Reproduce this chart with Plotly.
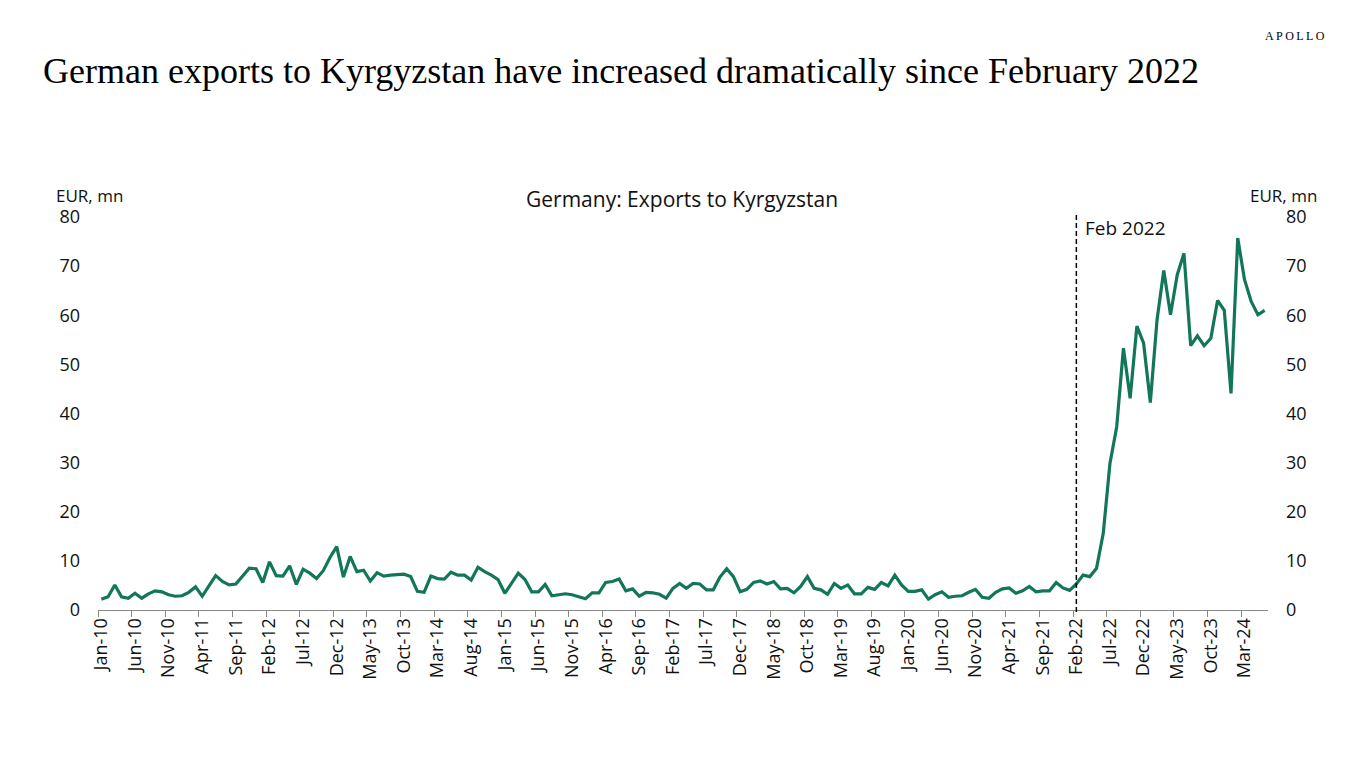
import pandas as pd
import plotly.graph_objects as go

# Monthly German exports to Kyrgyzstan, EUR mn
exp_2010 = [2.2, 2.7, 5.1, 2.7, 2.4, 3.4, 2.4, 3.3, 3.9, 3.7, 3.1, 2.8]
exp_2011 = [2.9, 3.6, 4.7, 2.8, 4.9, 7.0, 5.8, 5.1, 5.3, 6.8, 8.5, 8.4]
exp_2012 = [5.6, 9.8, 7.0, 6.9, 9.0, 5.2, 8.3, 7.5, 6.4, 8.0, 10.7, 12.9]
exp_2013 = [6.7, 10.9, 7.8, 8.1, 5.9, 7.6, 6.9, 7.1, 7.2, 7.3, 6.8, 3.8]
exp_2014 = [3.6, 6.9, 6.4, 6.3, 7.7, 7.1, 7.1, 6.1, 8.7, 7.8, 7.1, 6.2]
exp_2015 = [3.4, 5.4, 7.5, 6.2, 3.7, 3.7, 5.2, 2.9, 3.1, 3.3, 3.1, 2.7]
exp_2016 = [2.3, 3.5, 3.5, 5.6, 5.8, 6.3, 3.9, 4.3, 2.8, 3.6, 3.5, 3.2]
exp_2017 = [2.4, 4.4, 5.4, 4.4, 5.4, 5.3, 4.1, 4.1, 6.7, 8.4, 6.8, 3.7]
exp_2018 = [4.2, 5.6, 5.9, 5.3, 5.8, 4.3, 4.4, 3.5, 4.8, 6.8, 4.4, 4.1]
exp_2019 = [3.2, 5.4, 4.4, 5.1, 3.3, 3.3, 4.6, 4.2, 5.6, 4.9, 7.1, 5.1]
exp_2020 = [3.8, 3.8, 4.1, 2.2, 3.1, 3.7, 2.6, 2.8, 2.9, 3.6, 4.2, 2.6]
exp_2021 = [2.4, 3.6, 4.3, 4.5, 3.4, 3.9, 4.8, 3.7, 3.9, 3.9, 5.6, 4.5]
exp_2022 = [4.0, 5.3, 7.1, 6.8, 8.5, 15.6, 29.9, 37.3, 53.3, 43.1, 57.8, 54.3]
exp_2023 = [42.2, 59.1, 69.1, 60.1, 68.2, 72.6, 53.8, 55.8, 53.8, 55.3, 63.0, 61.0]
exp_2024 = [44.1, 75.7, 67.3, 62.8, 60.1, 61.0]

values = (exp_2010 + exp_2011 + exp_2012 + exp_2013 + exp_2014 + exp_2015 + exp_2016
          + exp_2017 + exp_2018 + exp_2019 + exp_2020 + exp_2021 + exp_2022 + exp_2023 + exp_2024)
months = [d.strftime("%b-%y") for d in pd.date_range("2010-01-01", periods=len(values), freq="MS")]

event_month = "Feb-22"
event_label = "Feb 2022"
title = "German exports to Kyrgyzstan have increased dramatically since February 2022"
chart_title = "Germany: Exports to Kyrgyzstan"
unit = "EUR, mn"
brand = "A\u2009P\u2009O\u2009L\u2009L\u2009O"

W, H = 1366, 768
L, R, T, B = 98, 1268.4, 217, 610  # plot area in pixels


def px(x):
    return (x - L) / (R - L)


def py(y):
    return (B - y) / (B - T)


SANS = "Open Sans"
TXT = "#111111"
GREEN = "#12765A"

fig = go.Figure()
fig.add_trace(go.Scatter(x=months, y=values, mode="lines",
                         line=dict(color=GREEN, width=3.2), showlegend=False, hoverinfo="x+y"))
fig.add_trace(go.Scatter(x=months, y=values, mode="lines", yaxis="y2",
                         line=dict(color="rgba(0,0,0,0)", width=0), showlegend=False, hoverinfo="skip"))

fig.add_shape(type="line", xref="x", yref="paper", x0=event_month, x1=event_month,
              y0=-0.005, y1=py(213), line=dict(color="black", width=1.5, dash="5px,3px"))

annotations = [
    dict(text=title, x=px(41), y=py(71), xanchor="left", yanchor="middle",
         font=dict(family="Liberation Serif", size=36, color="black")),
    dict(text=brand, x=px(1327), y=py(36), xanchor="right", yanchor="middle",
         font=dict(family="Liberation Serif", size=12, color="black")),
    dict(text=chart_title, x=px(682), y=py(199), xanchor="center", yanchor="middle",
         font=dict(family=SANS, size=21, color=TXT)),
    dict(text=unit, x=px(54), y=py(195), xanchor="left", yanchor="middle",
         font=dict(family=SANS, size=17, color=TXT)),
    dict(text=unit, x=px(1319), y=py(195), xanchor="right", yanchor="middle",
         font=dict(family=SANS, size=17, color=TXT)),
    dict(text=event_label, x=px(1083), y=py(228), xanchor="left", yanchor="middle",
         font=dict(family=SANS, size=19, color=TXT)),
]
for a in annotations:
    a.update(xref="paper", yref="paper", showarrow=False)

yax = dict(range=[0, 80], dtick=10, showgrid=False, zeroline=False, showline=False,
           ticks="", tickfont=dict(family=SANS, size=18, color=TXT), ticklabelstandoff=17,
           fixedrange=True)

fig.update_layout(
    width=W, height=H,
    margin=dict(l=L, r=W - R, t=T, b=H - B, pad=0),
    paper_bgcolor="white", plot_bgcolor="white",
    annotations=annotations,
    xaxis=dict(type="category", range=[-0.5, len(values) - 0.5], tickmode="linear", tick0=0, dtick=5,
               tickson="boundaries", ticks="outside", ticklen=6, tickcolor="#888888", tickwidth=1,
               showline=True, linecolor="#888888", linewidth=1, showgrid=False, zeroline=False,
               tickangle=-90, tickfont=dict(family=SANS, size=18, color=TXT)),
    yaxis=dict(**yax, side="left"),
    yaxis2=dict(**yax, side="right", overlaying="y"),
)

fig.write_html("out.html")
